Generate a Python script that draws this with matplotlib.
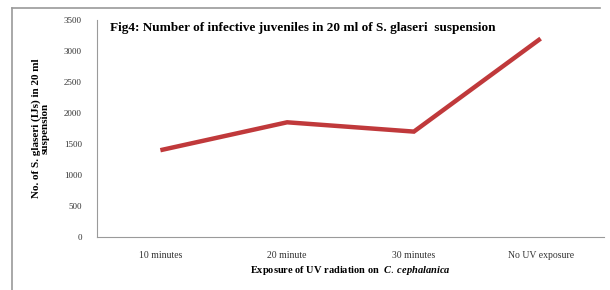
import matplotlib
matplotlib.use("Agg")
import matplotlib.pyplot as plt
from matplotlib.lines import Line2D

categories = ["10 minutes", "20 minute", "30 minutes", "No UV exposure"]
values = [1400, 1850, 1700, 3200]
yticks = [0, 500, 1000, 1500, 2000, 2500, 3000, 3500]

plt.rcParams['font.family'] = ['Liberation Serif', 'DejaVu Serif']
plt.rcParams['mathtext.fontset'] = 'custom'
plt.rcParams['mathtext.it'] = 'Liberation Serif:italic:bold'
plt.rcParams['mathtext.rm'] = 'Liberation Serif'

fig = plt.figure(figsize=(6.1, 2.9), dpi=100)
W, H = 610, 290
# frame: left and top edges
fig.lines.append(Line2D([12/W, 12/W], [0, 1 - 8/H], transform=fig.transFigure, color='#9a9a9a', lw=1.2))
fig.lines.append(Line2D([12/W, 600/W], [1 - 8/H, 1 - 8/H], transform=fig.transFigure, color='#9a9a9a', lw=1.2))

ax = fig.add_axes([97/W, 53/H, 507/W, 217/H])
x = list(range(len(categories)))
ax.plot(x, values, color='#c0393b', linewidth=3.2, solid_capstyle='butt', solid_joinstyle='miter')
ax.set_xlim(-0.5, len(categories) - 0.5)
ax.set_ylim(0, 3500)
ax.set_yticks(yticks)
ax.set_yticklabels([str(v) for v in yticks], fontsize=6.5, color='#333333')
ax.set_xticks(x)
ax.set_xticklabels(categories, fontsize=7, color='#333333')
ax.tick_params(axis='y', length=0, pad=11)
ax.tick_params(axis='x', length=0, pad=10)
for s in ['top', 'right']:
    ax.spines[s].set_visible(False)
ax.spines['left'].set_color('#9a9a9a')
ax.spines['bottom'].set_color('#9a9a9a')
ax.set_xlabel("Exposure of UV radiation on  $C.\\ cephalanica$", fontsize=7.5, fontweight='bold', labelpad=3)
ax.set_ylabel("No. of S. glaseri (IJs) in 20 ml\nsuspension", fontsize=8, fontweight='bold', labelpad=10, linespacing=1.0)
ax.text(0.025, 0.99, "Fig4: Number of infective juveniles in 20 ml of S. glaseri  suspension",
        transform=ax.transAxes, fontsize=9.5, fontweight='bold', ha='left', va='top')
fig.savefig("out.png", dpi=100)
